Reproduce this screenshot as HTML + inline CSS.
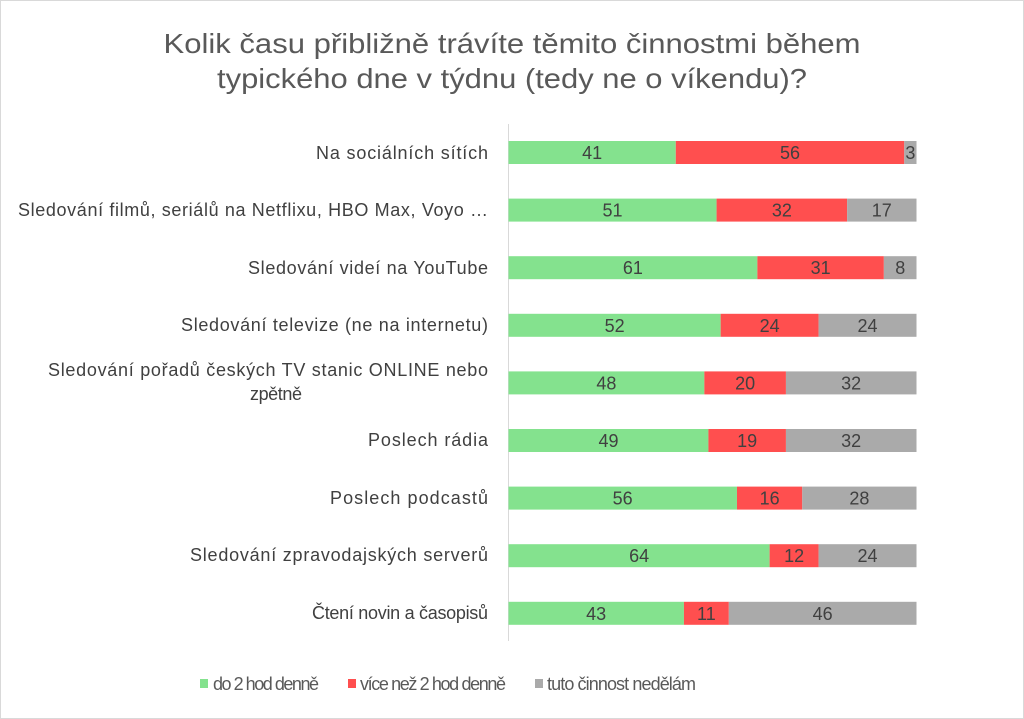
<!DOCTYPE html>
<html><head><meta charset="utf-8"><style>body{margin:0;background:#fff}svg{display:block}</style></head><body>
<svg width="1024" height="719" xmlns="http://www.w3.org/2000/svg" font-family="Liberation Sans, sans-serif">
<rect x="0.5" y="0.5" width="1023" height="718" fill="#fff" stroke="#d9d9d9"/>
<text x="512" y="53" font-size="28" fill="#595959" text-anchor="middle" textLength="697" lengthAdjust="spacingAndGlyphs">Kolik času přibližně trávíte těmito činnostmi během</text>
<text x="512" y="88" font-size="28" fill="#595959" text-anchor="middle" textLength="590" lengthAdjust="spacingAndGlyphs">typického dne v týdnu (tedy ne o víkendu)?</text>
<line x1="508.5" y1="124" x2="508.5" y2="641" stroke="#d9d9d9"/>
<g>
<rect x="508.5" y="141" width="167.28" height="23" fill="#84e28e"/><rect x="675.78" y="141" width="228.48" height="23" fill="#ff4f4f"/><rect x="904.26" y="141" width="12.24" height="23" fill="#aaaaaa"/>
<rect x="508.5" y="198.6" width="208.08" height="23" fill="#84e28e"/><rect x="716.58" y="198.6" width="130.56" height="23" fill="#ff4f4f"/><rect x="847.14" y="198.6" width="69.36" height="23" fill="#aaaaaa"/>
<rect x="508.5" y="256.2" width="248.88" height="23" fill="#84e28e"/><rect x="757.38" y="256.2" width="126.48" height="23" fill="#ff4f4f"/><rect x="883.86" y="256.2" width="32.64" height="23" fill="#aaaaaa"/>
<rect x="508.5" y="313.8" width="212.16" height="23" fill="#84e28e"/><rect x="720.66" y="313.8" width="97.92" height="23" fill="#ff4f4f"/><rect x="818.58" y="313.8" width="97.92" height="23" fill="#aaaaaa"/>
<rect x="508.5" y="371.4" width="195.84" height="23" fill="#84e28e"/><rect x="704.34" y="371.4" width="81.6" height="23" fill="#ff4f4f"/><rect x="785.94" y="371.4" width="130.56" height="23" fill="#aaaaaa"/>
<rect x="508.5" y="429" width="199.92" height="23" fill="#84e28e"/><rect x="708.42" y="429" width="77.52" height="23" fill="#ff4f4f"/><rect x="785.94" y="429" width="130.56" height="23" fill="#aaaaaa"/>
<rect x="508.5" y="486.6" width="228.48" height="23" fill="#84e28e"/><rect x="736.98" y="486.6" width="65.28" height="23" fill="#ff4f4f"/><rect x="802.26" y="486.6" width="114.24" height="23" fill="#aaaaaa"/>
<rect x="508.5" y="544.2" width="261.12" height="23" fill="#84e28e"/><rect x="769.62" y="544.2" width="48.96" height="23" fill="#ff4f4f"/><rect x="818.58" y="544.2" width="97.92" height="23" fill="#aaaaaa"/>
<rect x="508.5" y="601.8" width="175.44" height="23" fill="#84e28e"/><rect x="683.94" y="601.8" width="44.88" height="23" fill="#ff4f4f"/><rect x="728.82" y="601.8" width="187.68" height="23" fill="#aaaaaa"/>
</g>
<g font-size="18" fill="#404040" text-anchor="middle">
<text x="592.1" y="159">41</text><text x="790" y="159">56</text><text x="910.4" y="159">3</text>
<text x="612.5" y="216.6">51</text><text x="781.9" y="216.6">32</text><text x="881.8" y="216.6">17</text>
<text x="632.9" y="274.2">61</text><text x="820.6" y="274.2">31</text><text x="900.2" y="274.2">8</text>
<text x="614.6" y="331.8">52</text><text x="769.6" y="331.8">24</text><text x="867.5" y="331.8">24</text>
<text x="606.4" y="389.4">48</text><text x="745.1" y="389.4">20</text><text x="851.2" y="389.4">32</text>
<text x="608.5" y="447">49</text><text x="747.2" y="447">19</text><text x="851.2" y="447">32</text>
<text x="622.7" y="504.6">56</text><text x="769.6" y="504.6">16</text><text x="859.4" y="504.6">28</text>
<text x="639.1" y="562.2">64</text><text x="794.1" y="562.2">12</text><text x="867.5" y="562.2">24</text>
<text x="596.2" y="619.8">43</text><text x="706.4" y="619.8">11</text><text x="822.7" y="619.8">46</text>
</g>
<g font-size="18" fill="#404040" lengthAdjust="spacingAndGlyphs">
<text x="316" y="159" textLength="172">Na sociálních sítích</text>
<text x="18" y="216" textLength="470">Sledování filmů, seriálů na Netflixu, HBO Max, Voyo …</text>
<text x="248" y="274" textLength="240">Sledování videí na YouTube</text>
<text x="181" y="331" textLength="307">Sledování televize (ne na internetu)</text>
<text x="48" y="376" textLength="440">Sledování pořadů českých TV stanic ONLINE nebo</text>
<text x="250" y="400" textLength="52">zpětně</text>
<text x="368" y="446" textLength="120">Poslech rádia</text>
<text x="330" y="504" textLength="158">Poslech podcastů</text>
<text x="190" y="561" textLength="298">Sledování zpravodajských serverů</text>
<text x="312" y="619" textLength="176">Čtení novin a časopisů</text>
</g>
<g font-size="18" fill="#595959" lengthAdjust="spacingAndGlyphs">
<rect x="200" y="679" width="8" height="9" fill="#84e28e"/><text x="213" y="690" textLength="106">do 2 hod denně</text>
<rect x="348" y="679" width="8" height="9" fill="#ff4f4f"/><text x="360" y="690" textLength="146">více než 2 hod denně</text>
<rect x="535" y="679" width="8" height="9" fill="#aaaaaa"/><text x="547" y="690" textLength="149">tuto činnost nedělám</text>
</g>
</svg>
</body></html>
